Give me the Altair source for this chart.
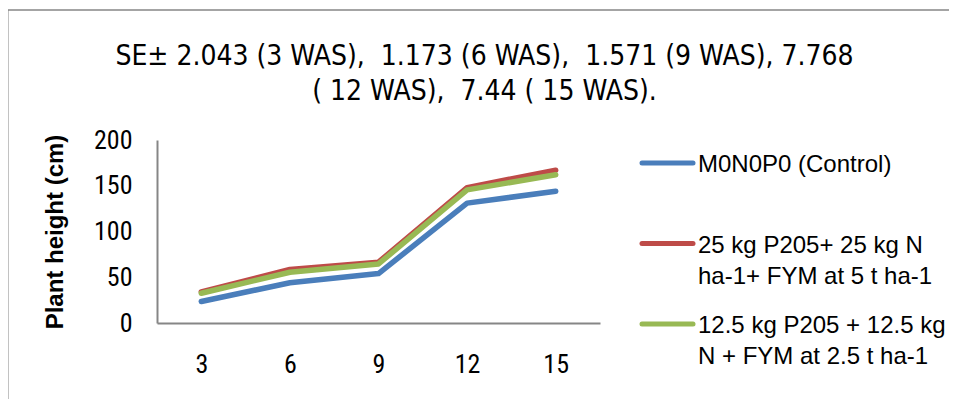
import altair as alt
import pandas as pd

weeks = [3, 6, 9, 12, 15]
series_names = [
    "M0N0P0 (Control)",
    "25 kg P205+ 25 kg N ha-1+ FYM at 5 t ha-1",
    "12.5 kg P205 + 12.5 kg N + FYM at 2.5 t ha-1",
]
label_lines = [
    ["M0N0P0 (Control)"],
    ["25 kg P205+ 25 kg N", "ha-1+ FYM at 5 t ha-1"],
    ["12.5 kg P205 + 12.5 kg", "N + FYM at 2.5 t ha-1"],
]
control = [23.5, 44.0, 54.0, 131.0, 144.0]
treat_25 = [34.0, 58.5, 66.5, 148.0, 167.0]
treat_12 = [32.5, 55.5, 64.5, 145.5, 162.0]
colors = ["#4A7EBB", "#BE4B48", "#98B954"]
title_lines = [
    "SE\u00b1 2.043 (3 WAS),\u00a0 1.173 (6 WAS),\u00a0 1.571 (9 WAS), 7.768",
    "( 12 WAS),\u00a0 7.44 ( 15 WAS).",
]
y_ticks = [0, 50, 100, 150, 200]

rows = []
for i, (name, vals) in enumerate(zip(series_names, [control, treat_25, treat_12])):
    for w, v in zip(weeks, vals):
        rows.append({"week": w, "series": name, "height": v, "order": i})
df = pd.DataFrame(rows)

lines = alt.Chart(df).mark_line(strokeWidth=5.5, strokeCap="round", strokeJoin="round").encode(
    x=alt.X("week:O", scale=alt.Scale(type="point", padding=0.5),
            axis=alt.Axis(title=None, labelAngle=0, ticks=False, tickSize=0,
                          labelPadding=28, labelFont="Roboto Condensed",
                          labelFontSize=26, labelFontWeight="normal", labelColor="#000000",
                          domainColor="#868686", domainWidth=2, grid=False)),
    y=alt.Y("height:Q", scale=alt.Scale(domain=[0, 200], nice=False),
            axis=alt.Axis(values=y_ticks, title="Plant height (cm)", ticks=False, tickSize=0,
                          labelPadding=25, labelFont="Roboto Condensed",
                          labelFontSize=26, labelColor="#000000",
                          titleFont="Liberation Sans", titleFontSize=24, titleFontWeight="bold",
                          titleColor="#000000", titlePadding=26,
                          domainColor="#868686", domainWidth=2, grid=False)),
    color=alt.Color("series:N", scale=alt.Scale(domain=series_names, range=colors), legend=None),
    detail="series:N",
    order=alt.Order("order:Q"),
)

one = alt.Data(values=[{}])
legend_layers = []
for i, (txt, col) in enumerate(zip(label_lines, colors)):
    sy = 23 + 80.5 * i
    legend_layers.append(
        alt.Chart(one).mark_rule(color=col, strokeWidth=5, strokeCap="round").encode(
            x=alt.value(485), x2=alt.value(536), y=alt.value(sy)))
    legend_layers.append(
        alt.Chart(one).mark_text(text=txt, align="left", baseline="top", font="Liberation Sans",
                                 fontSize=24, lineHeight=31, color="#000000").encode(
            x=alt.value(541), y=alt.value(sy - 10)))

border = alt.Chart(one).mark_rule(color="#868686", strokeWidth=3).encode(
    x=alt.value(-150), y=alt.value(-130), y2=alt.value(270))
border_top = alt.Chart(one).mark_rule(color="#868686", strokeWidth=1.5).encode(
    x=alt.value(-151.5), x2=alt.value(800), y=alt.value(-130))

chart = alt.layer(border, border_top, lines, *legend_layers).properties(
    width=443, height=183,
    autosize=alt.AutoSizeParams(type="none"),
    padding={"left": 149, "top": 132, "right": 349, "bottom": 76},
    title=alt.TitleParams(text=title_lines, font="DejaVu Sans Condensed", fontSize=28,
                          fontWeight="normal", color="#000000", anchor="middle", frame="group",
                          dx=106, dy=97, offset=0, lineHeight=35),
).configure_view(stroke=None)

chart.save("out.html", embed_options={"renderer": "svg", "actions": False})
